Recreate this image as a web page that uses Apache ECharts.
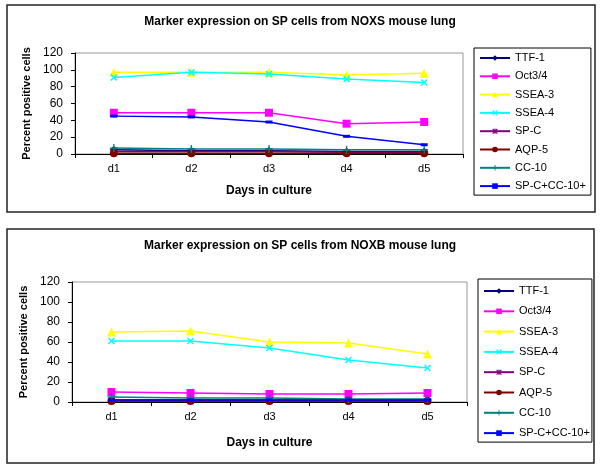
<!DOCTYPE html>
<html><head><meta charset="utf-8">
<script src="https://cdn.jsdelivr.net/npm/echarts@6/dist/echarts.min.js"></script>
<style>html,body{margin:0;padding:0;background:#fff}#c{width:600px;height:469px}</style>
</head><body><div id="c"></div>
<script>
const categories = ['d1','d2','d3','d4','d5'];
const markerNames = ['TTF-1','Oct3/4','SSEA-3','SSEA-4','SP-C','AQP-5','CC-10','SP-C+CC-10+'];
const yTicks = [0,20,40,60,80,100,120];

// NOXS (top chart)
const noxsTTF1 = [5,4,4,3,3];
const noxsOct34 = [49,49,49,36,38];
const noxsSSEA3 = [97,97,97,94,96];
const noxsSSEA4 = [91,97,95,89,85];
const noxsSPC = [3,3,3,2,2];
const noxsAQP5 = [1,1,1,1,1];
const noxsCC10 = [7,6,6,5,5];
const noxsSPCCC10 = [45,44,38,21,11];

// NOXB (bottom chart)
const noxbTTF1 = [2,2,2,2,2];
const noxbOct34 = [10,9,8,8,9];
const noxbSSEA3 = [70,71,60,59,48];
const noxbSSEA4 = [61,61,54,42,34];
const noxbSPC = [1,1,1,1,1];
const noxbAQP5 = [1,1,1,1,1];
const noxbCC10 = [5,4,4,3,3];
const noxbSPCCC10 = [2,2,2,2,2];

const noxsData = [noxsTTF1,noxsOct34,noxsSSEA3,noxsSSEA4,noxsSPC,noxsAQP5,noxsCC10,noxsSPCCC10];
const noxbData = [noxbTTF1,noxbOct34,noxbSSEA3,noxbSSEA4,noxbSPC,noxbAQP5,noxbCC10,noxbSPCCC10];

const colors = ['#000080','#FF00FF','#FFFF00','#00FFFF','#800080','#800000','#008080','#0000FF'];
const xPath = 'path://M0,1.5L1.5,0L5,3.5L8.5,0L10,1.5L6.5,5L10,8.5L8.5,10L5,6.5L1.5,10L0,8.5L3.5,5Z';
const starPath = 'path://M4.2,0H5.8V10H4.2Z M0,1.5L1.5,0L5,3.5L8.5,0L10,1.5L6.5,5L10,8.5L8.5,10L5,6.5L1.5,10L0,8.5L3.5,5Z';
const plusPath = 'path://M4.2,0H5.8V4.2H10V5.8H5.8V10H4.2V5.8H0V4.2H4.2Z';
const dashPath = 'path://M0,0H10V4H0Z';
const symbols = ['diamond','rect','triangle',xPath,starPath,'circle',plusPath,dashPath];
const sizes = [8,8,9,7,7,8,8,[7,3]];

const font = 'Liberation Sans, Arial, sans-serif';

function axes(gi, nameGapX, nameGapY) {
  return {
    x: {
      type:'category', gridIndex:gi, data:categories, boundaryGap:true,
      name:'Days in culture', nameLocation:'middle', nameGap:nameGapX,
      nameTextStyle:{fontFamily:font, fontWeight:'bold', fontSize:12, color:'#000'},
      axisLine:{lineStyle:{color:'#000', width:1}},
      axisTick:{show:true, inside:false, length:4, lineStyle:{color:'#000'}},
      axisLabel:{fontFamily:font, fontSize:11, color:'#000', margin:9},
      splitLine:{show:false}
    },
    y: {
      type:'value', gridIndex:gi, min:yTicks[0], max:yTicks[yTicks.length-1], interval:yTicks[1]-yTicks[0],
      name:'Percent positive cells', nameLocation:'middle', nameGap:nameGapY,
      nameTextStyle:{fontFamily:font, fontWeight:'bold', fontSize:11, color:'#000'},
      axisLine:{show:true, lineStyle:{color:'#000', width:1}},
      axisTick:{show:true, inside:false, length:4, lineStyle:{color:'#000'}},
      axisLabel:{fontFamily:font, fontSize:12, color:'#000', margin:12},
      splitLine:{show:false}
    }
  };
}
const a0 = axes(0, 31, 40);
const a1 = axes(1, 35, 40);

const series = [];
[noxsData, noxbData].forEach((set, gi) => {
  set.forEach((vals, i) => {
    series.push({
      type:'line', name:markerNames[i], xAxisIndex:gi, yAxisIndex:gi,
      data:vals, symbol:symbols[i], symbolSize:sizes[i], showSymbol:true,
      lineStyle:{color:colors[i], width:1.5},
      itemStyle:{color:colors[i], borderWidth:0},
      emphasis:{disabled:true}, animation:false, z: 2 + i
    });
  });
});

function legend(left, top, gap, padTop, padRight) {
  return {
    left:left, top:top, orient:'vertical', data:markerNames,
    itemWidth:30, itemHeight:7, itemGap:gap,
    padding:[padTop,padRight,3,5], borderColor:'#000', borderWidth:1,
    textStyle:{fontFamily:font, fontSize:11, color:'#000', lineHeight:12, height:12},
    selectedMode:false
  };
}

const option = {
  backgroundColor:'#fff',
  animation:false,
  title:[
    {text:'Marker expression on SP cells from NOXS mouse lung', left:'center', top:11,
     textStyle:{fontFamily:font, fontWeight:'bold', fontSize:12, color:'#000'}},
    {text:'Marker expression on SP cells from NOXB mouse lung', left:'center', top:235,
     textStyle:{fontFamily:font, fontWeight:'bold', fontSize:12, color:'#000'}}
  ],
  grid:[
    {left:75, right:137, top:53, height:101, show:true, borderColor:'#999', borderWidth:1, backgroundColor:'transparent'},
    {left:72, right:133, top:282, height:120, show:true, borderColor:'#999', borderWidth:1, backgroundColor:'transparent'}
  ],
  xAxis:[a0.x, a1.x],
  yAxis:[a0.y, a1.y],
  legend:[
    legend(474, 48, 6.3, 4, 5),
    legend(478, 279, 8.3, 6, 2)
  ],
  graphic:[
    {type:'rect', shape:{x:7, y:5, width:588, height:207}, style:{fill:'none', stroke:'#222', lineWidth:1.5}, silent:true},
    {type:'rect', shape:{x:7, y:229, width:587, height:234}, style:{fill:'none', stroke:'#222', lineWidth:1.5}, silent:true}
  ],
  series:series
};

const chart = echarts.init(document.getElementById('c'), null, {renderer:'canvas'});
chart.setOption(option);
</script>
</body></html>
